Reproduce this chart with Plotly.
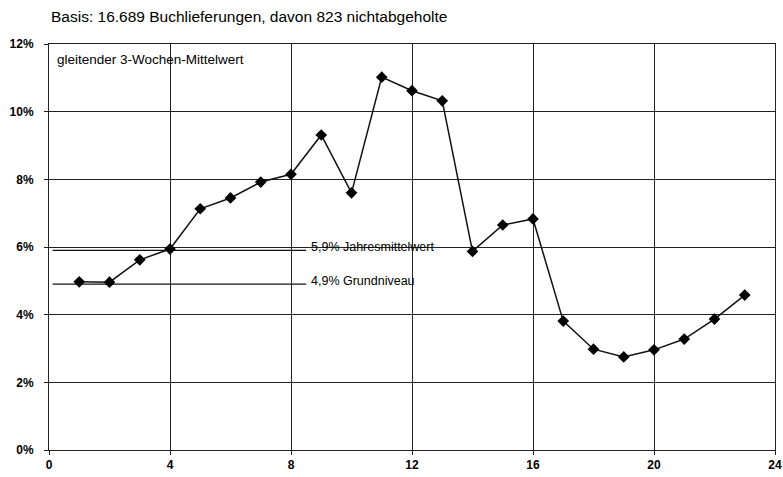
import plotly.graph_objects as go

weeks = list(range(1, 24))
values = [4.97, 4.96, 5.62, 5.94, 7.13, 7.45, 7.92, 8.15, 9.31, 7.60, 11.02, 10.62,
          10.32, 5.87, 6.65, 6.83, 3.81, 2.98, 2.75, 2.96, 3.28, 3.87, 4.58]

ref_levels = [5.9, 4.9]
ref_labels = ["5,9% Jahresmittelwert", "4,9% Grundniveau"]
ref_start, ref_end = 0.12, 8.5

x_ticks = [0, 4, 8, 12, 16, 20, 24]
y_ticks = [0, 2, 4, 6, 8, 10, 12]
y_tick_labels = [f"{v}%" for v in y_ticks]

title_text = "Basis: 16.689 Buchlieferungen, davon 823 nichtabgeholte"
box_text = "gleitender 3-Wochen-Mittelwert"

FONT = "Liberation Sans, Arial"

fig = go.Figure()

for lvl in ref_levels:
    fig.add_trace(go.Scatter(x=[ref_start, ref_end], y=[lvl, lvl], mode="lines",
                             line=dict(color="#111", width=1.3), hoverinfo="skip",
                             showlegend=False))

fig.add_trace(go.Scatter(x=weeks, y=values, mode="lines+markers",
                         line=dict(color="#111", width=1.5),
                         marker=dict(symbol="diamond", size=9, color="#000"),
                         showlegend=False))

for lvl, lab in zip(ref_levels, ref_labels):
    fig.add_annotation(x=ref_end, y=lvl, text=lab, showarrow=False, xanchor="left",
                       yanchor="bottom", xshift=3, yshift=-6,
                       font=dict(family=FONT, size=12.5, color="#000"))

fig.add_annotation(xref="paper", yref="paper", x=0.0, y=1.0, text=box_text,
                   showarrow=False, xanchor="left", yanchor="top", xshift=6, yshift=-6,
                   font=dict(family=FONT, size=13.5, color="#000"))

fig.update_layout(
    width=783, height=477,
    margin=dict(l=49, r=8, t=44, b=27, autoexpand=False),
    paper_bgcolor="white", plot_bgcolor="white",
    title=dict(text=title_text, x=51 / 783, xanchor="left", y=1 - 17 / 477, yanchor="middle",
               font=dict(family=FONT, size=15.5, color="#000")),
    font=dict(family=FONT, color="#000"),
)

fig.update_xaxes(range=[0, 24], tickvals=x_ticks, ticktext=[str(v) for v in x_ticks],
                 showgrid=True, gridcolor="#222", gridwidth=1,
                 showline=True, linecolor="#222", linewidth=1, mirror=True,
                 ticks="outside", ticklen=4, tickcolor="#222", automargin=False,
                 tickfont=dict(family=FONT, size=12, color="#000", weight="bold"),
                 zeroline=False)
fig.update_yaxes(range=[0, 12], tickvals=y_ticks, ticktext=y_tick_labels,
                 showgrid=True, gridcolor="#222", gridwidth=1,
                 showline=True, linecolor="#222", linewidth=1, mirror=True,
                 ticks="outside", ticklen=4, tickcolor="#222", ticklabelstandoff=8,
                 automargin=False,
                 tickfont=dict(family=FONT, size=12, color="#000", weight="bold"),
                 zeroline=False)

fig.write_html("out.html", config={"displayModeBar": False},
               post_script="document.body.style.margin='0';document.body.style.padding='0';")
